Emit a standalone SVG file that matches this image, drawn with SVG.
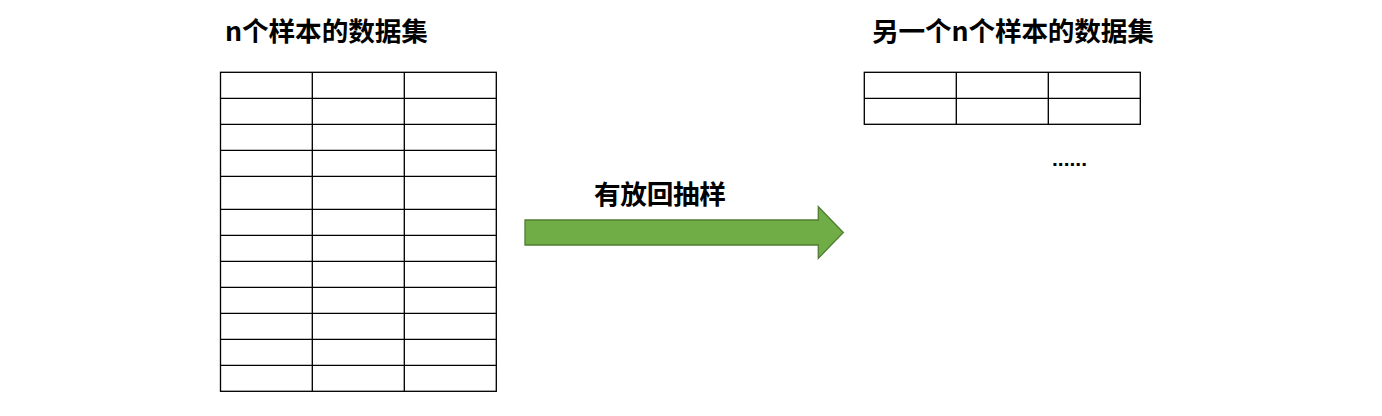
<svg xmlns="http://www.w3.org/2000/svg" width="1382" height="416" viewBox="0 0 1382 416">
  <style>
    .title { font-family: "Noto Sans CJK SC", "Microsoft YaHei", sans-serif; font-weight: bold; font-size: 26.67px; fill: #000; }
    .grid { fill: #fff; stroke: #000; stroke-width: 1.33; }
    .gl { stroke: #000; stroke-width: 1.33; fill: none; }
    .arrow { fill: #70AD47; stroke: #507E32; stroke-width: 1.33; }
    .dots { font-family: "Liberation Sans", Arial, sans-serif; font-weight: bold; font-size: 21px; fill: #000; }
  </style>
  <rect width="1382" height="416" fill="#fff"/>

  <g id="left-dataset">
    <text class="title" x="225" y="40.5" textLength="203" lengthAdjust="spacing">n个样本的数据集</text>
    <rect class="grid" x="220.5" y="72.3" width="275.8" height="319"/>
    <path class="gl" d="M312.3,72.3V391.3M404.3,72.3V391.3M220.5,98.3H496.3M220.5,124.3H496.3M220.5,150.3H496.3M220.5,176.3H496.3M220.5,209.3H496.3M220.5,235.3H496.3M220.5,261.3H496.3M220.5,287.3H496.3M220.5,313.3H496.3M220.5,339.3H496.3M220.5,365.3H496.3"/>
  </g>

  <g id="right-dataset">
    <text class="title" x="872" y="40.5" textLength="282" lengthAdjust="spacing">另一个n个样本的数据集</text>
    <rect class="grid" x="864.3" y="72.3" width="276" height="52"/>
    <path class="gl" d="M956.3,72.3V124.3M1048.3,72.3V124.3M864.3,98.3H1140.3"/>
    <text class="dots" x="1052" y="165.7">......</text>
  </g>

  <g id="connectors">
    <path class="arrow" d="M525,220H818.3V206.7L843.3,232.5L818.3,258.3V245H525Z"/>
    <text class="title" x="594" y="204" textLength="132" lengthAdjust="spacing">有放回抽样</text>
  </g>
</svg>
